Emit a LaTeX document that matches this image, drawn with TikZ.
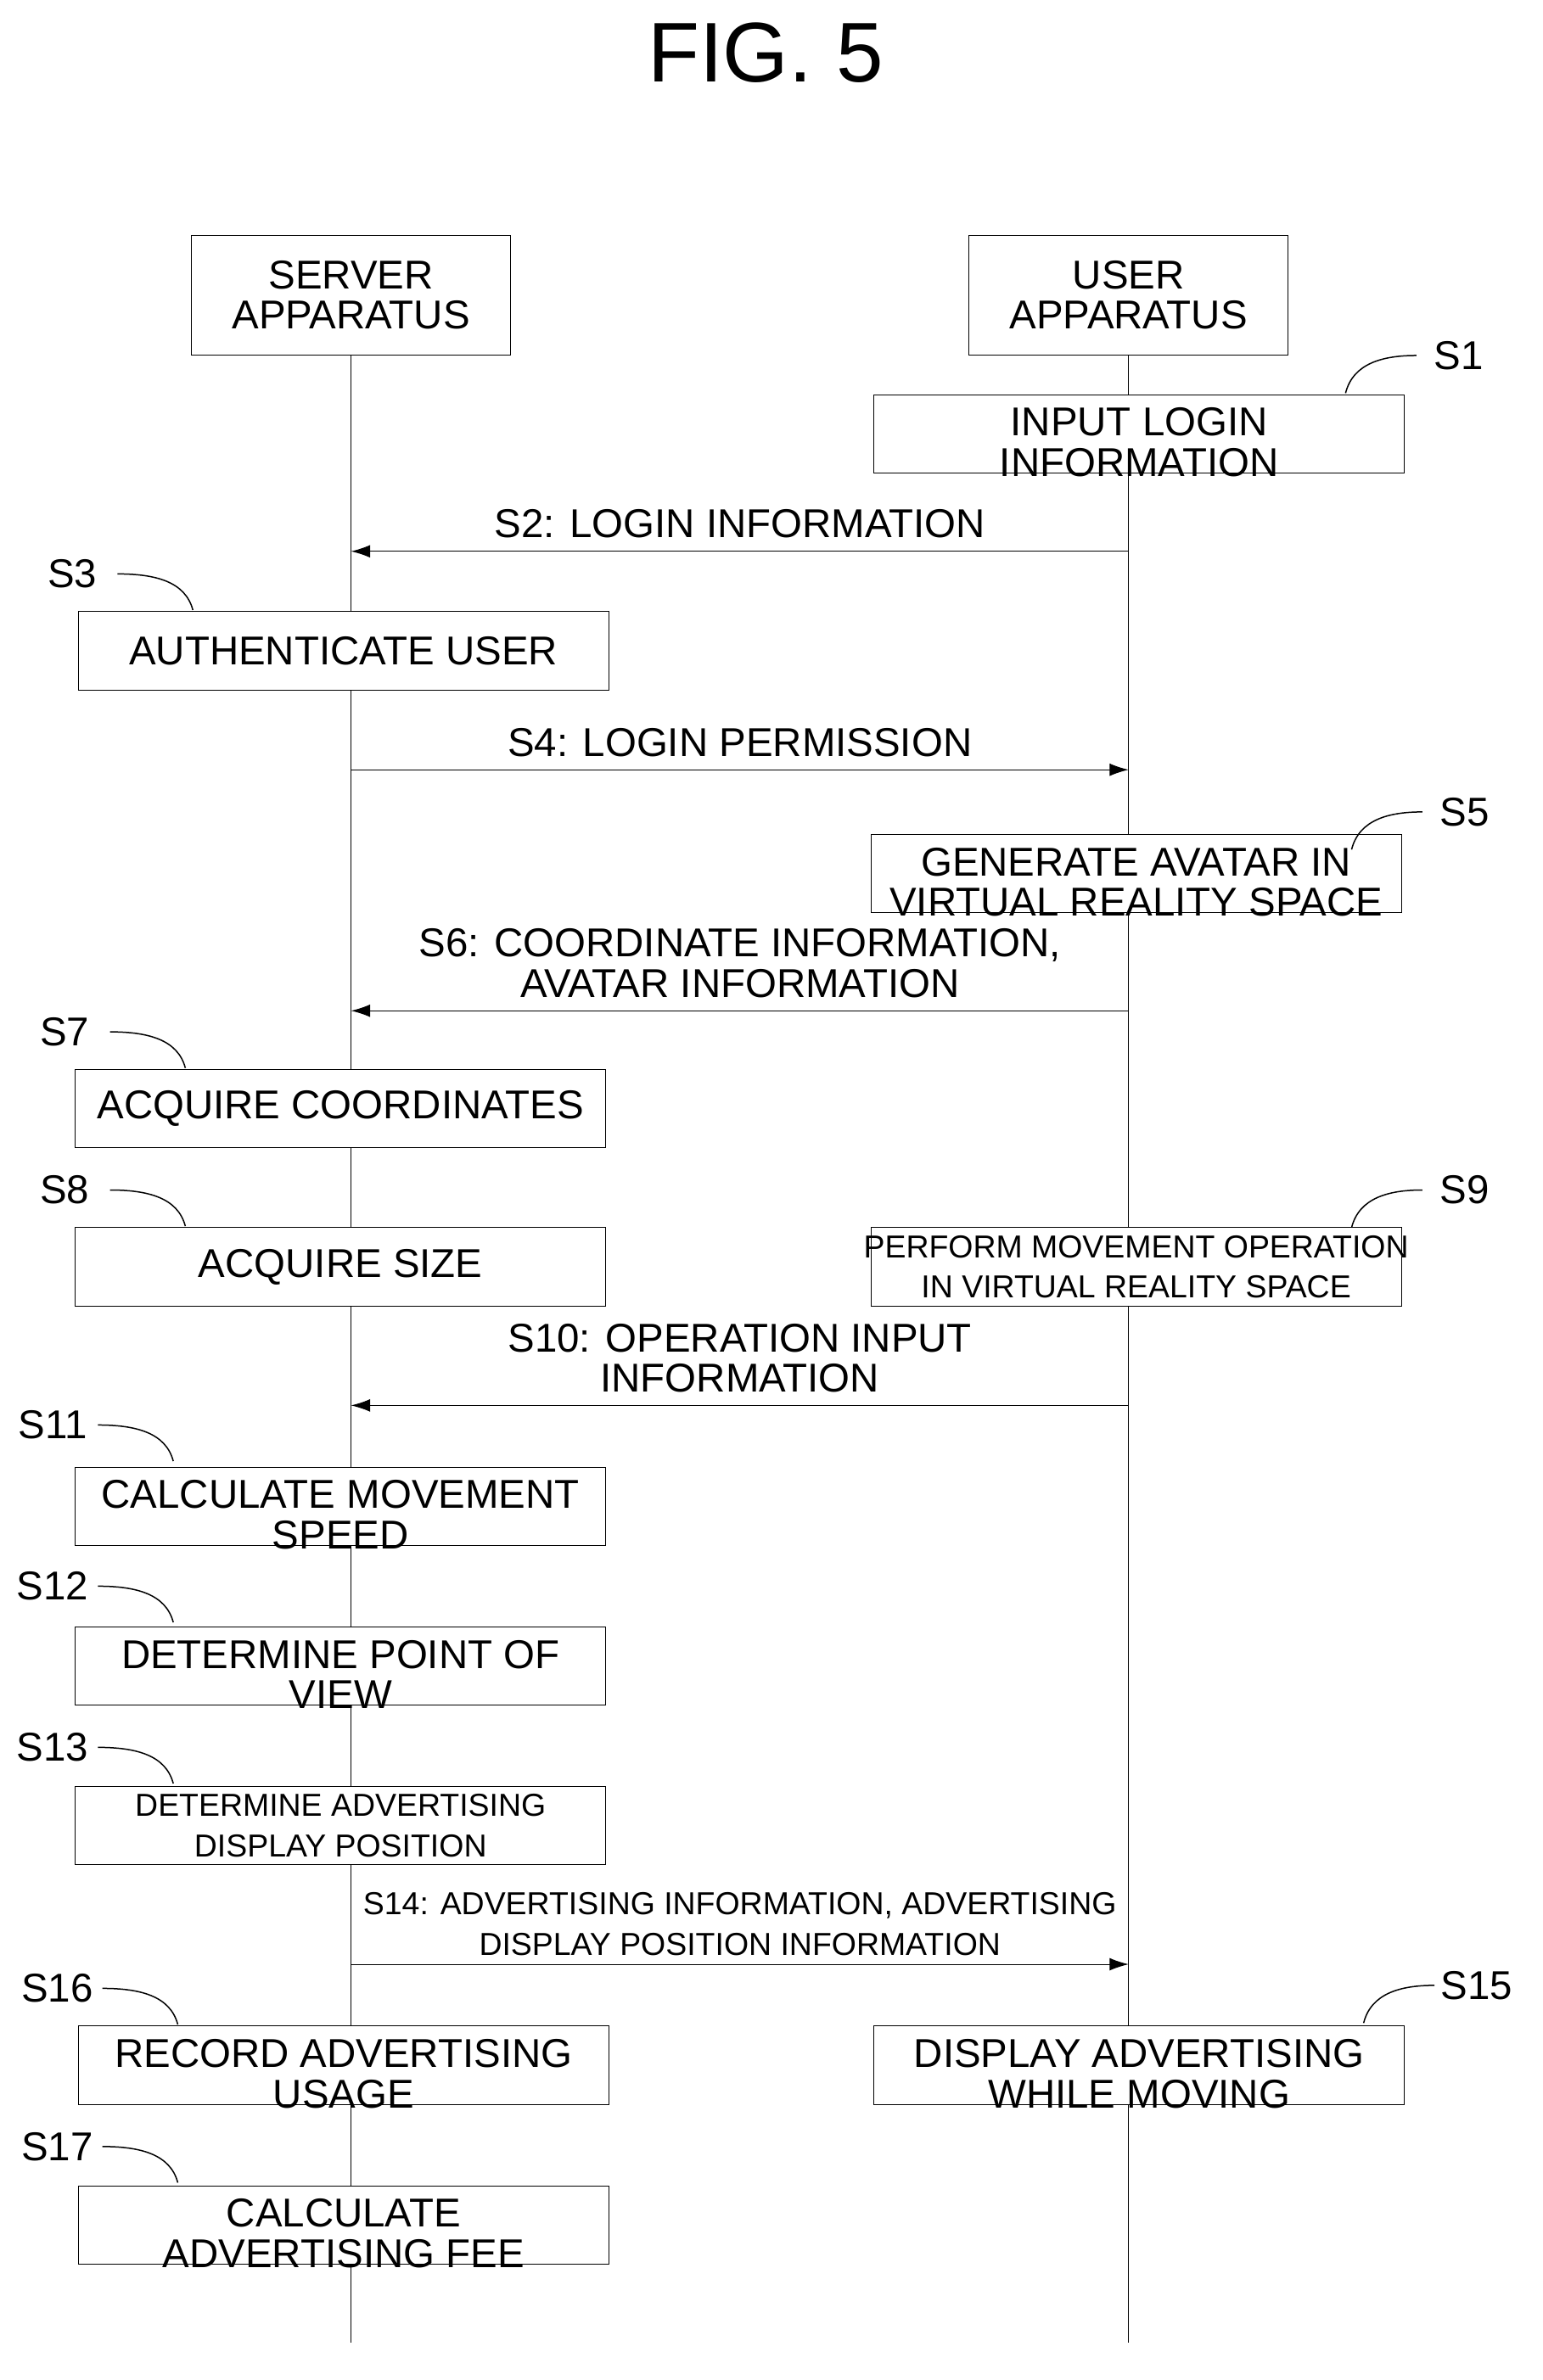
\documentclass[tikz,border=0pt]{standalone}
\usepackage{fontspec}
\setmainfont{Liberation Sans}
\usetikzlibrary{arrows.meta,positioning}
\newcommand{\stepfont}{\fontsize{19}{19}\selectfont}
\newcommand{\smallstep}{\fontsize{15}{19}\selectfont}
\begin{document}
\begin{tikzpicture}
	[x=0.25mm,y=-0.25mm,
	box/.style={draw, fill=white, inner sep=0pt, minimum width=88mm, minimum height=13mm},
	txt/.style={align=center, inner sep=0pt, font=\stepfont},
	stxt/.style={align=center, inner sep=0pt, font=\smallstep},
	msg/.style={-{Latex[length=9pt,width=6pt]}},
	lead/.style={line width=0.6pt}]
	\useasboundingbox (0,0) rectangle (1024,1580);
	\node[font=\fontsize{40}{40}\selectfont] (fig) at (508,35) {FIG. 5};
	% lifelines
	\coordinate (sb) at (233,1555);
	\coordinate (ub) at (749,1555);
	\node[draw, minimum width=53mm, minimum height=19.75mm, txt] (srv) at (233,196) {SERVER\\APPARATUS};
	\node[draw, minimum width=53mm, minimum height=19.75mm, txt] (usr) at (749,196) {USER\\APPARATUS};
	\draw (srv.south) -- (sb);
	\draw (usr.south) -- (ub);
	% step boxes
	\node[box] (b1) at (756,288) {};
	\node[box] (b3) at (228,432) {};
	\node[box] (b5) at (754,580) {};
	\node[box] (b7) at (226,736) {};
	\node[box] (b8) at (226,841) {};
	\node[box] (b9) at (754,841) {};
	\node[box] (b11) at (226,1000) {};
	\node[box] (b12) at (226,1106) {};
	\node[box] (b13) at (226,1212) {};
	\node[box] (b16) at (228,1371) {};
	\node[box] (b15) at (756,1371) {};
	\node[box] (b17) at (228,1477) {};
	\node[txt] at ([yshift=-4pt]b1) {INPUT LOGIN\\INFORMATION};
	\node[txt] at (b3) {AUTHENTICATE USER};
	\node[txt] at ([yshift=-4pt]b5) {GENERATE AVATAR IN\\VIRTUAL REALITY SPACE};
	\node[txt] at (b7) {ACQUIRE COORDINATES};
	\node[txt] at (b8) {ACQUIRE SIZE};
	\node[stxt] at (b9) {PERFORM MOVEMENT OPERATION\\IN VIRTUAL REALITY SPACE};
	\node[txt] at ([yshift=-4pt]b11) {CALCULATE MOVEMENT\\SPEED};
	\node[txt] at ([yshift=-4pt]b12) {DETERMINE POINT OF\\VIEW};
	\node[stxt] at (b13) {DETERMINE ADVERTISING\\DISPLAY POSITION};
	\node[txt] at ([yshift=-4pt]b16) {RECORD ADVERTISING\\USAGE};
	\node[txt] at ([yshift=-4pt]b15) {DISPLAY ADVERTISING\\WHILE MOVING};
	\node[txt] at ([yshift=-4pt]b17) {CALCULATE\\ADVERTISING FEE};
	% messages
	\draw[msg] (749,366) -- (233,366) node[midway, above=6pt, txt] {S2: LOGIN INFORMATION};
	\draw[msg] (233,511) -- (749,511) node[midway, above=6pt, txt] {S4: LOGIN PERMISSION};
	\draw[msg] (749,671) -- (233,671) node[midway, above=6pt, txt] {S6: COORDINATE INFORMATION,\\AVATAR INFORMATION};
	\draw[msg] (749,933) -- (233,933) node[midway, above=6pt, txt] {S10: OPERATION INPUT\\INFORMATION};
	\draw[msg] (233,1304) -- (749,1304) node[midway, above=4pt, stxt] {S14: ADVERTISING INFORMATION, ADVERTISING\\DISPLAY POSITION INFORMATION};
	% step labels
	\foreach \n/\x/\y in {1/968/236, 5/972/539, 9/972/790, 15/980/1318}{
		\node[txt] (l\n) at (\x,\y) {S\n};
		\draw[lead] (\x-75,\y+25) .. controls (\x-70,\y+5) and (\x-50,\y) .. (\x-28,\y);
	}
	\foreach \n/\x/\y in {3/48/381, 7/43/685, 8/43/790, 11/35/946, 12/35/1053, 13/35/1160, 16/38/1320, 17/38/1425}{
		\node[txt] (l\n) at (\x,\y) {S\n};
		\draw[lead] (\x+30,\y) .. controls (\x+55,\y) and (\x+75,\y+5) .. (\x+80,\y+24);
	}
\end{tikzpicture}
\end{document}
